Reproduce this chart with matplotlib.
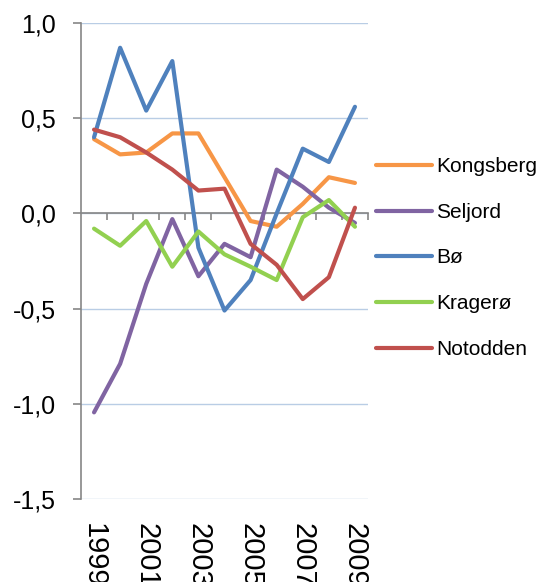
import matplotlib
matplotlib.use('Agg')
import matplotlib.pyplot as plt

plt.rcParams['font.family'] = ['Liberation Sans', 'DejaVu Sans']

years = [1999, 2000, 2001, 2002, 2003, 2004, 2005, 2006, 2007, 2008, 2009]
kongsberg = [0.39, 0.31, 0.32, 0.42, 0.42, 0.19, -0.04, -0.07, 0.05, 0.19, 0.16]
seljord = [-1.045, -0.79, -0.37, -0.03, -0.33, -0.16, -0.23, 0.23, 0.14, 0.03, -0.05]
bo = [0.40, 0.87, 0.54, 0.80, -0.18, -0.51, -0.35, 0.00, 0.34, 0.27, 0.56]
kragero = [-0.08, -0.17, -0.04, -0.28, -0.095, -0.215, -0.28, -0.35, -0.02, 0.07, -0.07]
notodden = [0.44, 0.40, 0.32, 0.23, 0.12, 0.13, -0.16, -0.27, -0.45, -0.335, 0.03]

series_names = ['Kongsberg', 'Seljord', 'Bø', 'Kragerø', 'Notodden']
series_values = [kongsberg, seljord, bo, kragero, notodden]
series_colors = ['#F79646', '#8064A2', '#4F81BD', '#92D050', '#C0504D']

y_ticks = [-1.5, -1.0, -0.5, 0.0, 0.5, 1.0]
y_labels = ['-1,5', '-1,0', '-0,5', '0,0', '0,5', '1,0']

W, H = 539, 582
fig = plt.figure(figsize=(W / 100, H / 100), dpi=100)
left, right, top, bottom = 81, 368, 23, 499
ax = fig.add_axes([left / W, 1 - bottom / H, (right - left) / W, (bottom - top) / H])

xs = list(range(len(years)))
for name, vals, col in zip(series_names, series_values, series_colors):
    ax.plot(xs, vals, color=col, lw=3, label=name,
            solid_joinstyle='round', solid_capstyle='round', zorder=3)

ax.set_xlim(-0.5, len(years) - 0.5)
ax.set_ylim(-1.5, 1.0)
ax.set_yticks(y_ticks)
ax.set_yticklabels(y_labels)
ax.yaxis.grid(True, color='#B9CDE5', lw=1)
ax.set_axisbelow(True)

for s in ['top', 'right', 'bottom']:
    ax.spines[s].set_visible(False)
ax.spines['left'].set_color('#868686')
ax.spines['left'].set_linewidth(1.2)
ax.tick_params(axis='y', length=6, width=1.2, color='#868686', labelsize=18, pad=12)

ax.set_xticks(xs[::2])
ax.set_xticklabels([str(y) for y in years[::2]], rotation=-90, va='top', ha='center')
ax.tick_params(axis='x', length=0, labelsize=21, pad=17)

# category axis line at zero with boundary tick marks
zero_pos = (0 - (-1.5)) / (1.0 - (-1.5))
sec = ax.secondary_xaxis(zero_pos)
sec.set_zorder(1)
sec.set_xticks([i + 0.5 for i in xs])
sec.tick_params(axis='x', direction='in', length=5, width=1.2, color='#868686',
                labeltop=False, labelbottom=False)
for s in sec.spines.values():
    s.set_color('#868686')
    s.set_linewidth(1.2)

leg = ax.legend(loc='center left', bbox_to_anchor=(376 / W, 1 - 258 / H),
                bbox_transform=fig.transFigure, frameon=False, fontsize=15,
                handlelength=2.69, handletextpad=0.2, labelspacing=1.28,
                borderpad=0, borderaxespad=0)
for h in leg.get_lines():
    h.set_linewidth(3)
    h.set_solid_capstyle('round')

fig.savefig('out.png', dpi=100)
